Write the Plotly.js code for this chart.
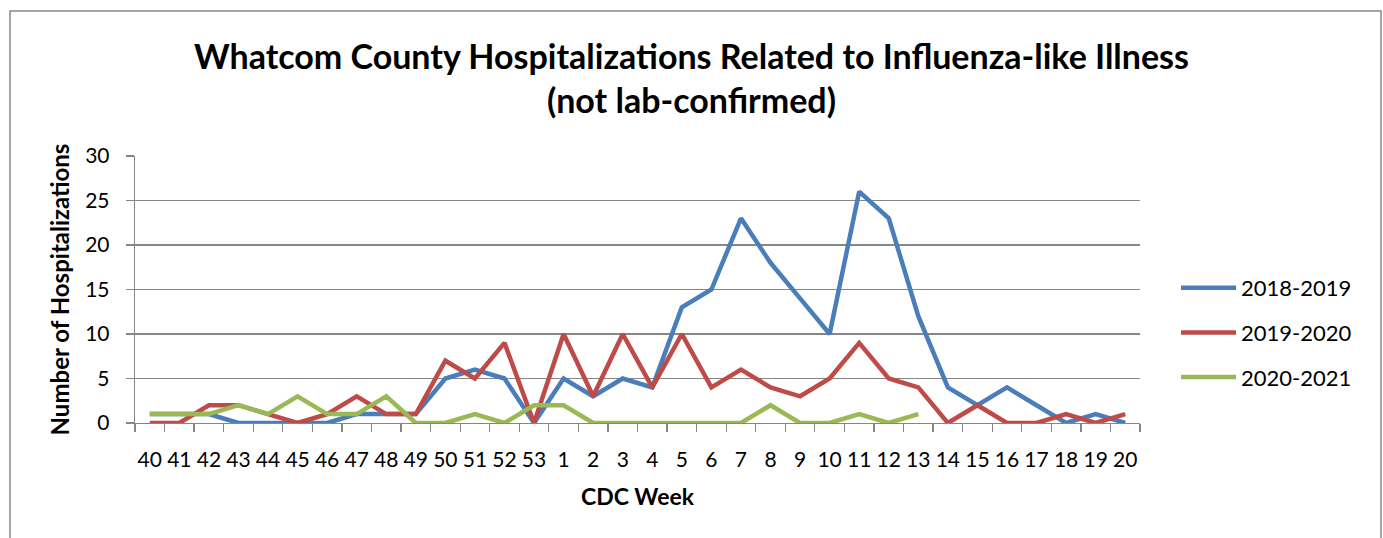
<!DOCTYPE html>
<html>
<head>
<meta charset="utf-8">
<script src="https://cdn.plot.ly/plotly-3.0.1.min.js"></script>
<style>
html,body{margin:0;padding:0;background:#fff;}
#chart{width:1383px;height:538px;}
</style>
</head>
<body>
<div id="chart"></div>
<script>
const weeks = ["40","41","42","43","44","45","46","47","48","49","50","51","52","53","1","2","3","4","5","6","7","8","9","10","11","12","13","14","15","16","17","18","19","20"];
const s2018 = [1,1,1,0,0,0,0,1,1,1,5,6,5,0,5,3,5,4,13,15,23,18,14,10,26,23,12,4,2,4,2,0,1,0];
const s2019 = [0,0,2,2,1,0,1,3,1,1,7,5,9,0,10,3,10,4,10,4,6,4,3,5,9,5,4,0,2,0,0,1,0,1];
const s2020 = [1,1,1,2,1,3,1,1,3,0,0,1,0,2,2,0,0,0,0,0,0,2,0,0,1,0,1];
const seriesNames = ["2018-2019","2019-2020","2020-2021"];
const seriesColors = ["#4a7ebb","#be4b48","#98b954"];

const FONT = "Lato, 'Liberation Sans', sans-serif";
const data = [s2018, s2019, s2020].map((vals, i) => ({
  type: "scatter",
  mode: "lines",
  name: seriesNames[i],
  legendgroup: "g" + i,
  x: weeks.slice(0, vals.length),
  y: vals,
  line: {color: seriesColors[i], width: 4.5},
  hoverinfo: "x+y+name"
}));

const L = 135, R = 1140, T = 156, B = 423;
const W = R - L, H = B - T;
const px = v => (v - L) / W;
const py = v => (B - v) / H;

const layout = {
  width: 1383, height: 538,
  margin: {l: L, r: 1383 - R, t: T, b: 538 - B, pad: 0},
  paper_bgcolor: "#fff", plot_bgcolor: "#fff",
  font: {family: FONT, color: "#000", size: 21},
  title: {
    text: "<b>Whatcom County Hospitalizations Related to Influenza-like Illness<br>(not lab-confirmed)</b>",
    font: {family: FONT, size: 34, color: "#000"},
    x: 0.5, xref: "container", xanchor: "center",
    y: 1 - 69/538, yref: "container", yanchor: "middle"
  },
  xaxis: {
    type: "category",
    categoryorder: "array", categoryarray: weeks,
    range: [-0.5, weeks.length - 0.5],
    tickson: "boundaries",
    tickangle: 0,
    ticks: "outside", ticklen: 8, tickcolor: "#868686", tickwidth: 1.3,
    showline: true, linecolor: "#868686", linewidth: 1.3,
    showgrid: false, zeroline: false,
    tickfont: {family: FONT, size: 21},
    ticklabelstandoff: 17,
    title: {text: "<b>CDC Week</b>", font: {family: FONT, size: 23}, standoff: 19},
    fixedrange: true
  },
  yaxis: {
    range: [0, 30], dtick: 5, tick0: 0,
    ticks: "outside", ticklen: 8, tickcolor: "#868686", tickwidth: 1.3,
    showline: true, linecolor: "#868686", linewidth: 1.3,
    showgrid: true, gridcolor: "#868686", gridwidth: 1.3,
    zeroline: false,
    tickfont: {family: FONT, size: 21},
    ticklabelstandoff: 12,
    title: {text: "<b>Number of Hospitalizations</b>", font: {family: FONT, size: 24}, standoff: 8},
    fixedrange: true
  },
  legend: {
    x: px(1176), y: py(267), xanchor: "left", yanchor: "top",
    font: {family: FONT, size: 22},
    itemwidth: 55,
    traceorder: "grouped",
    tracegroupgap: 13,
    bgcolor: "rgba(0,0,0,0)"
  },
  shapes: [{
    type: "rect", xref: "paper", yref: "paper",
    x0: px(10), x1: px(1381), y0: py(560), y1: py(11),
    line: {color: "#888888", width: 1.5}, fillcolor: "rgba(0,0,0,0)",
    layer: "below"
  }],
  showlegend: true
};

Plotly.newPlot("chart", data, layout, {displayModeBar: false, staticPlot: true});
</script>
</body>
</html>
